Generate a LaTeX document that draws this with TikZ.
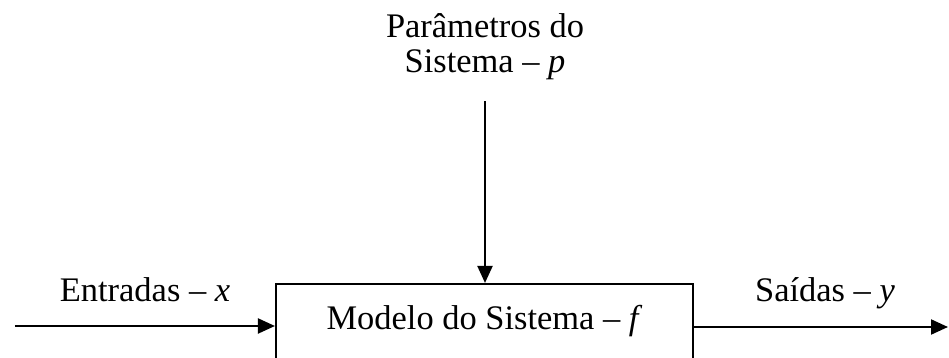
\documentclass[tikz,border=0pt]{standalone}
\usepackage{fontspec}
\setmainfont{Liberation Serif}
\usetikzlibrary{arrows.meta}
\newcommand{\sigtext}[2]{#1 -- \textit{#2}}
\tikzset{
  sig/.style={line width=0.6pt,-{Triangle[length=0.17cm,width=0.15cm]}},
  txt/.style={font=\fontsize{9.8}{10}\selectfont,inner sep=0pt},
  block/.style={draw,line width=0.6pt,font=\fontsize{9.8}{10}\selectfont,
    minimum width=4.17cm,text height=0.37cm,text depth=0.4cm,inner ysep=0.09cm}
}

\begin{document}
\begin{tikzpicture}
\useasboundingbox (0,0) rectangle (9.49,3.58);
% block and labels
\node[block,anchor=base] (model) at (4.845,0.28) {\sigtext{Modelo do Sistema}{f}};
\node[txt,align=center,anchor=base] (param) at (4.85,2.85) {Parâmetros do\\\sigtext{Sistema}{p}};
\node[txt,anchor=base] (inlbl) at (1.45,0.56) {\sigtext{Entradas}{x}};
\node[txt,anchor=base] (outlbl) at (8.25,0.56) {\sigtext{Saídas}{y}};
\coordinate (in) at (0.15,0.32);
\coordinate (out) at (9.48,0.31);
% signals
\draw[sig,shorten <=0.2cm] (param.south) -- (param.south |- model.north);
\draw[sig] (in) -- (in -| model.west);
\draw[sig] (out -| model.east) -- (out);
\end{tikzpicture}
\end{document}
